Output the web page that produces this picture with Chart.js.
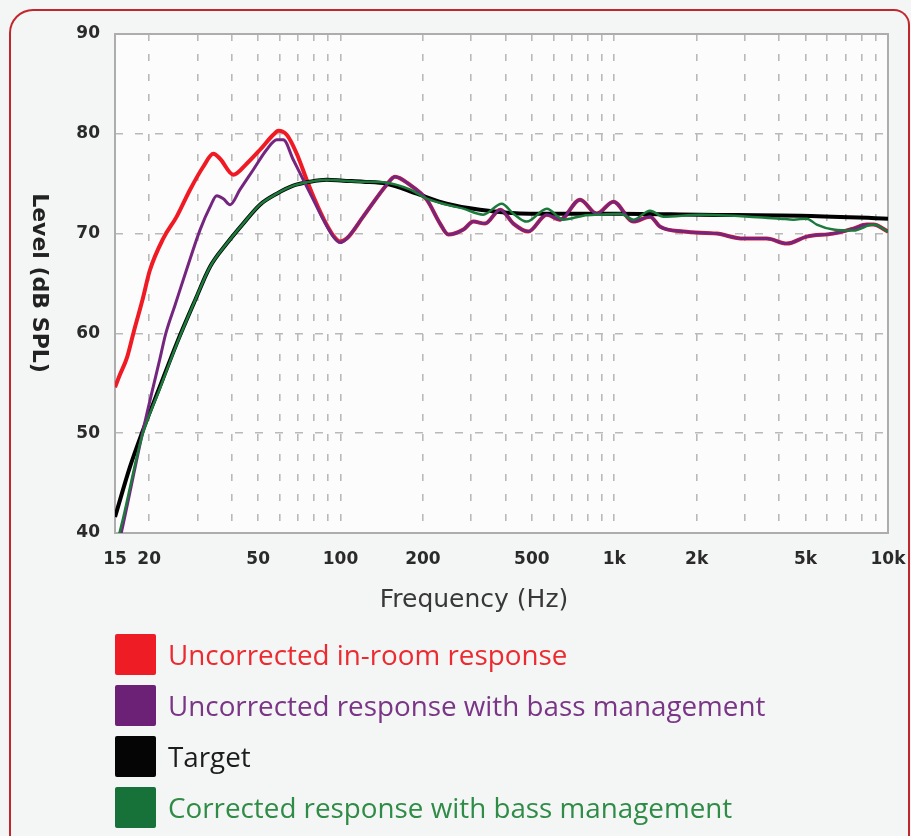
<!DOCTYPE html>
<html>
<head>
<meta charset="utf-8">
<script src="https://cdn.jsdelivr.net/npm/chart.js@4.4.0/dist/chart.umd.min.js"></script>
<style>
  html, body { margin:0; padding:0; width:911px; height:836px; overflow:hidden; background:#f4f5f5; position:relative; }
  #frame { position:absolute; left:9px; top:9px; width:901px; height:900px; border:2px solid #c0272d; border-bottom:none; border-radius:24px 16px 0 0; box-sizing:border-box; }
  #c { position:absolute; left:0; top:0; }
  #legend { position:absolute; left:115px; top:634px; font-family:"Open Sans", "Noto Sans", sans-serif; }
  .item { display:flex; align-items:center; height:41px; margin-bottom:10px; }
  .sw { width:41px; height:41px; border-radius:2px; margin-right:12px; flex:none; }
  .lbl { font-size:27.8px; line-height:41px; white-space:nowrap; }
</style>
</head>
<body>
<div id="frame"></div>
<canvas id="c" width="911" height="640"></canvas>
<div id="legend"></div>
<script>
// ---- data ----
const redFreq   = [15, 15.6, 16.6, 17.5, 19.0, 20.1, 22.5, 25.2, 28.2, 31.5, 34.3, 36.3, 40.6, 45.4, 50.8, 56.8, 59.3, 63.6, 69.2, 75.2, 80.5, 87, 94.1, 99.6, 105.3, 121, 147.5, 158, 179, 206.5, 231, 247.7, 281, 305.7, 337, 383, 428, 485, 567, 634, 750, 863, 993, 1174, 1351, 1470, 1788, 2368, 2963, 3606, 4269, 5050, 6316, 7474, 8366, 8844, 10000];
const redLevel  = [54.6, 55.8, 57.6, 60.0, 63.6, 66.3, 69.5, 71.7, 74.4, 76.7, 78.0, 77.5, 75.9, 77.0, 78.4, 79.9, 80.3, 79.9, 78.0, 75.4, 73.4, 71.4, 69.8, 69.2, 69.5, 71.7, 74.9, 75.7, 74.9, 73.4, 71.0, 69.9, 70.4, 71.2, 71.0, 72.4, 71.0, 70.2, 71.9, 71.4, 73.4, 72.0, 73.2, 71.2, 71.7, 70.7, 70.2, 70.0, 69.5, 69.5, 69.0, 69.7, 70.0, 70.5, 70.9, 70.9, 70.2];

const purpleFreq  = [15, 15.9, 19.0, 21.9, 23.0, 24.9, 27.4, 30.7, 33.4, 35.3, 37.3, 39.5, 42.9, 48.0, 53.7, 58.5, 61.8, 67.2, 73.1, 79.5, 86.5, 94.1, 99.6, 105.3, 121, 147.5, 158, 179, 206.5, 231, 247.7, 281, 305.7, 337, 383, 428, 485, 567, 634, 750, 863, 993, 1174, 1351, 1470, 1788, 2368, 2963, 3606, 4269, 5050, 6316, 7474, 8366, 8844, 10000];
const purpleLevel = [37.2, 40.3, 50.3, 57.5, 60.0, 62.9, 66.4, 70.4, 72.7, 73.8, 73.5, 72.9, 74.4, 76.4, 78.4, 79.4, 79.4, 77.4, 75.4, 73.4, 71.4, 69.7, 69.1, 69.5, 71.7, 74.9, 75.7, 74.9, 73.4, 71.0, 69.9, 70.4, 71.2, 71.0, 72.4, 71.0, 70.2, 71.9, 71.4, 73.4, 72.0, 73.2, 71.2, 71.7, 70.7, 70.2, 70.0, 69.5, 69.5, 69.0, 69.7, 70.0, 70.5, 70.9, 70.9, 70.2];

const targetFreq  = [15, 17.0, 18.8, 21.9, 25.2, 29.4, 33.4, 38.4, 44.1, 50.8, 58.5, 67.2, 77.4, 89.0, 102.4, 121, 147.5, 190, 244, 323, 492, 1050, 2058, 4773, 10000];
const targetLevel = [41.6, 46.6, 50.0, 54.7, 59.0, 63.3, 66.7, 69.0, 71.0, 72.9, 74.0, 74.8, 75.2, 75.4, 75.3, 75.2, 75.0, 74.0, 73.0, 72.4, 72.0, 72.0, 71.9, 71.8, 71.5];

const greenFreq  = [15, 16.0, 18.8, 21.9, 25.2, 29.4, 33.4, 38.4, 44.1, 50.8, 58.5, 67.2, 77.4, 89.0, 102.4, 121, 147.5, 180, 206.5, 244, 281, 332, 388, 428, 479, 567, 652, 771, 887, 1050, 1174, 1351, 1512, 2058, 4034, 4512, 5050, 5493, 6316, 7474, 8844, 10000];
const greenLevel = [38.2, 41.3, 49.6, 54.5, 58.9, 63.3, 66.7, 69.0, 71.0, 72.9, 74.0, 74.8, 75.2, 75.4, 75.3, 75.2, 75.1, 74.4, 73.5, 72.9, 72.5, 71.9, 73.0, 72.0, 71.2, 72.5, 71.4, 71.8, 71.9, 72.0, 71.4, 72.3, 71.7, 71.9, 71.5, 71.4, 71.5, 70.9, 70.4, 70.3, 70.9, 70.2];

const xGridValues = [15, 20, 30, 40, 50, 60, 70, 80, 90, 100, 200, 300, 400, 500, 600, 700, 800, 900, 1000, 2000, 3000, 4000, 5000, 6000, 7000, 8000, 9000, 10000];
const xLabelValues = [15, 20, 50, 100, 200, 500, 1000, 2000, 5000, 10000];
const xLabelTexts  = ['15', '20', '50', '100', '200', '500', '1k', '2k', '5k', '10k'];
const yTickValues  = [40, 50, 60, 70, 80, 90];

const seriesNames  = ['Uncorrected in-room response', 'Uncorrected response with bass management', 'Target', 'Corrected response with bass management'];
const lineColors   = ['#ef1a24', '#74267f', '#000000', '#1b7a3c'];
const swatchColors = ['#ee1c24', '#6c2177', '#050505', '#17723a'];
const textColors   = ['#ec2a30', '#7a3586', '#1c1c1c', '#2f8c47'];

// ---- chart ----
const pts = (f, v) => f.map((x, i) => ({ x: x, y: v[i] }));

const deco = {
  id: 'deco',
  beforeDraw(chart) {
    const { ctx, chartArea: a } = chart;
    ctx.save();
    ctx.fillStyle = '#fcfcfc';
    ctx.fillRect(a.left, a.top, a.right - a.left, a.bottom - a.top);
    ctx.restore();
  },
  beforeDatasetsDraw(chart) {
    const { ctx, chartArea: a } = chart;
    ctx.save();
    ctx.strokeStyle = '#adadad';
    ctx.lineWidth = 2;
    ctx.strokeRect(a.left, a.top, a.right - a.left, a.bottom - a.top);
    ctx.restore();
  },
  afterDraw(chart) {
    const { ctx } = chart;
    ctx.save();
    ctx.fillStyle = '#222';
    ctx.font = 'bold 22px "DejaVu Sans"';
    ctx.textAlign = 'center';
    ctx.textBaseline = 'middle';
    ctx.translate(39, 283);
    ctx.rotate(Math.PI / 2);
    ctx.fillText('Level (dB SPL)', 0, 0);
    ctx.restore();

    ctx.save();
    ctx.fillStyle = '#383838';
    ctx.font = '25px "DejaVu Sans"';
    ctx.textAlign = 'center';
    ctx.textBaseline = 'alphabetic';
    ctx.fillText('Frequency (Hz)', 474, 607);
    ctx.restore();
  }
};

const chart = new Chart(document.getElementById('c'), {
  type: 'line',
  data: {
    datasets: [
      { label: seriesNames[3], data: pts(greenFreq, greenLevel),   borderColor: lineColors[3], borderWidth: 2.5, order: 0 },
      { label: seriesNames[1], data: pts(purpleFreq, purpleLevel), borderColor: lineColors[1], borderWidth: 3,   order: 1 },
      { label: seriesNames[2], data: pts(targetFreq, targetLevel), borderColor: lineColors[2], borderWidth: 4,   order: 2 },
      { label: seriesNames[0], data: pts(redFreq, redLevel),       borderColor: lineColors[0], borderWidth: 4,   order: 3 }
    ]
  },
  options: {
    responsive: false,
    animation: false,
    events: [],
    elements: { point: { radius: 0 }, line: { cubicInterpolationMode: 'monotone', fill: false } },
    layout: { padding: { left: 0, right: 23, top: 34, bottom: 0 } },
    plugins: { legend: { display: false }, tooltip: { enabled: false } },
    scales: {
      x: {
        type: 'logarithmic',
        min: 15, max: 10000,
        afterBuildTicks: s => { s.ticks = xGridValues.map(v => ({ value: v })); },
        afterFit: s => { s.height = 107; s.paddingLeft = 0; s.paddingRight = 0; },
        ticks: {
          autoSkip: false, maxRotation: 0, minRotation: 0, padding: 16,
          color: '#2a2a2a',
          font: { family: 'DejaVu Sans', size: 17, weight: 'bold' },
          callback: v => { const i = xLabelValues.indexOf(v); return i >= 0 ? xLabelTexts[i] : ''; }
        },
        grid: {
          drawTicks: false, lineWidth: 1.6,
          color: c => (c.tick && (c.tick.value === 15 || c.tick.value === 10000)) ? 'rgba(0,0,0,0)' : '#b9b9b9'
        },
        border: { display: false, dash: [7, 13], dashOffset: 0 }
      },
      y: {
        type: 'linear',
        min: 40, max: 90,
        afterBuildTicks: s => { s.ticks = yTickValues.map(v => ({ value: v })); },
        afterFit: s => { s.width = 115; s.paddingTop = 0; s.paddingBottom = 0; },
        ticks: {
          padding: 15, color: '#2a2a2a',
          font: { family: 'DejaVu Sans', size: 17, weight: 'bold' }
        },
        grid: {
          drawTicks: false, lineWidth: 1.6,
          color: c => (c.tick && (c.tick.value === 40 || c.tick.value === 90)) ? 'rgba(0,0,0,0)' : '#b9b9b9'
        },
        border: { display: false, dash: [8, 12], dashOffset: 0 }
      }
    }
  },
  plugins: [deco]
});

// ---- legend (built from the series lists) ----
const legend = document.getElementById('legend');
seriesNames.forEach((name, i) => {
  const row = document.createElement('div');
  row.className = 'item';
  const sw = document.createElement('div');
  sw.className = 'sw';
  sw.style.background = swatchColors[i];
  const lb = document.createElement('div');
  lb.className = 'lbl';
  lb.style.color = textColors[i];
  lb.textContent = name;
  row.appendChild(sw);
  row.appendChild(lb);
  legend.appendChild(row);
});
</script>
</body>
</html>
